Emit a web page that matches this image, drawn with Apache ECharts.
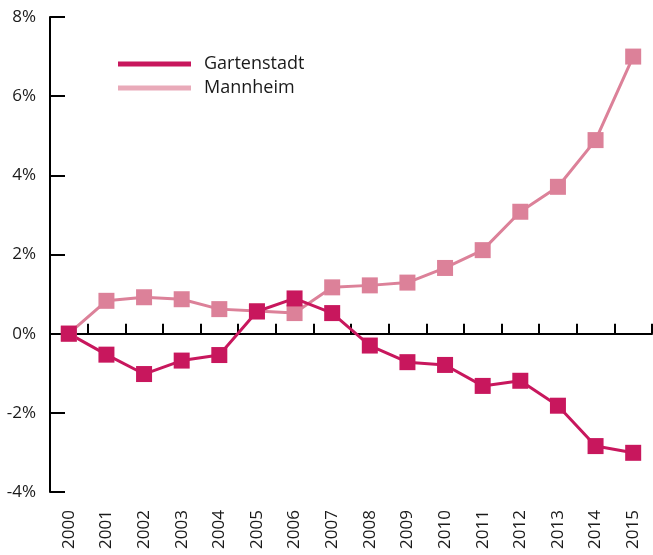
<!DOCTYPE html>
<html>
<head>
<meta charset="utf-8">
<script src="https://cdn.jsdelivr.net/npm/echarts@6/dist/echarts.min.js"></script>
<style>
  html, body { margin: 0; padding: 0; background: #fff; }
  #chart { width: 653px; height: 555px; }
</style>
</head>
<body>
<div id="chart"></div>
<script>
const years = ['2000', '2001', '2002', '2003', '2004', '2005', '2006', '2007',
  '2008', '2009', '2010', '2011', '2012', '2013', '2014', '2015']
const gartenstadt = [0, -0.53, -1.02, -0.68, -0.54, 0.56, 0.89, 0.52,
  -0.30, -0.72, -0.79, -1.32, -1.19, -1.82, -2.84, -3.01]
const mannheim = [0, 0.83, 0.92, 0.87, 0.62, 0.57, 0.52, 1.17,
  1.22, 1.29, 1.66, 2.11, 3.08, 3.71, 4.89, 7.0]
const yTicks = { min: -4, max: 8, step: 2 }

const font = '"Open Sans", "DejaVu Sans", sans-serif'
const textColor = '#1a1a1a'

const chart = echarts.init(document.getElementById('chart'))

chart.setOption({
  animation: false,
  textStyle: { fontFamily: font, color: textColor },
  grid: { left: 50, right: 1, top: 17, bottom: 63 },
  legend: {
    orient: 'vertical',
    left: 113,
    top: 50,
    icon: 'rect',
    itemWidth: 73,
    itemHeight: 5,
    itemGap: 6,
    textStyle: { fontSize: 18, color: textColor, fontFamily: font, padding: [0, 0, 0, 8] },
    data: [
      { name: 'Gartenstadt', itemStyle: { color: '#c8175d' } },
      { name: 'Mannheim', itemStyle: { color: '#e9aab9' } },
    ],
  },
  xAxis: [
    {
      type: 'category',
      data: years,
      boundaryGap: true,
      axisLine: { onZero: true, lineStyle: { color: '#000', width: 2 } },
      axisTick: { show: true, inside: true, length: 10, alignWithLabel: false, lineStyle: { color: '#000', width: 2 } },
      axisLabel: { show: false },
      splitLine: { show: false },
    },
    {
      type: 'category',
      data: years,
      boundaryGap: true,
      position: 'bottom',
      axisLine: { show: false, onZero: false },
      axisTick: { show: false },
      axisLabel: {
        rotate: 90,
        margin: 18,
        fontSize: 17,
        color: textColor,
        fontFamily: font,
      },
      splitLine: { show: false },
    },
  ],
  yAxis: {
    type: 'value',
    min: yTicks.min,
    max: yTicks.max,
    interval: yTicks.step,
    axisLine: { show: true, lineStyle: { color: '#000', width: 2 } },
    axisTick: { show: true, inside: true, length: 15, lineStyle: { color: '#000', width: 2 } },
    axisLabel: {
      margin: 14,
      fontSize: 17,
      color: textColor,
      fontFamily: font,
      formatter: v => v + '%',
    },
    splitLine: { show: false },
  },
  series: [
    {
      name: 'Mannheim',
      type: 'line',
      data: mannheim,
      symbol: 'rect',
      symbolSize: 16,
      lineStyle: { color: '#dc8199', width: 3 },
      itemStyle: { color: '#dc8199' },
    },
    {
      name: 'Gartenstadt',
      type: 'line',
      data: gartenstadt,
      symbol: 'rect',
      symbolSize: 16,
      lineStyle: { color: '#c8175d', width: 3 },
      itemStyle: { color: '#c8175d' },
    },
  ],
})
</script>
</body>
</html>
